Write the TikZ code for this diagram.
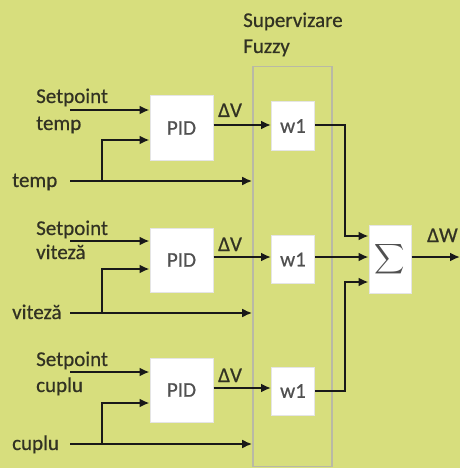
\documentclass[tikz,border=0pt]{standalone}
\usepackage{fontspec}
\setmainfont{Carlito}
\newfontfamily\labfont{Carlito}[FakeBold=0.6]
\usetikzlibrary{arrows.meta}
\definecolor{bg}{RGB}{215,222,125}
\definecolor{txt}{RGB}{50,50,35}
\definecolor{boxtxt}{RGB}{80,80,80}
\definecolor{frame}{RGB}{185,185,165}
\begin{document}
\begin{tikzpicture}[x=1pt,y=-1pt,
  lbl/.style={anchor=base west,inner sep=0pt,font=\labfont\fontsize{21}{24}\selectfont,text=txt},
  blk/.style={draw=black!10,fill=white,line width=1pt,inner sep=0pt,font=\labfont\fontsize{21}{24}\selectfont,text=boxtxt},
  pidbox/.style={blk,minimum width=63pt,minimum height=64pt},
  wbox/.style={blk,minimum width=43pt,minimum height=48pt},
  arr/.style={line width=2.6pt,draw=black!90,-{Latex[length=10pt,width=9pt]}},
  ln/.style={line width=2.6pt,draw=black!90}]
\fill[bg] (0,0) rectangle (460,468);
\useasboundingbox (0,0) rectangle (460,468);
% fuzzy supervisor frame
\node[draw=frame,line width=1.6pt,minimum width=79pt,minimum height=400pt,inner sep=0pt] (sup) at (292.5,266.5) {};
\node[lbl] (supl1) at (243,27) {Supervizare};
\node[lbl] (supl2) at (243,53) {Fuzzy};
% blocks
\node[pidbox] (pid1) at (181.5,128) {PID};
\node[pidbox] (pid2) at (181.5,260) {PID};
\node[pidbox] (pid3) at (181.5,390) {PID};
\node[wbox] (w1) at (293,126) {w1};
\node[wbox] (w2) at (293,259.5) {w1};
\node[wbox] (w3) at (293,391) {w1};
\node[blk,minimum width=42pt,minimum height=68pt] (sum) at (390,259) {\scalebox{2.1}{$\displaystyle\sum$}};
% text labels
\node[lbl] (s1a) at (36,103) {Setpoint};
\node[lbl] (s1b) at (36,130) {temp};
\node[lbl] (in1) at (12,187) {temp};
\node[lbl] (s2a) at (36,235) {Setpoint};
\node[lbl] (s2b) at (36,259) {viteză};
\node[lbl] (in2) at (12,319) {viteză};
\node[lbl] (s3a) at (36,366) {Setpoint};
\node[lbl] (s3b) at (36,392) {cuplu};
\node[lbl] (in3) at (12,450) {cuplu};
\node[lbl] (dv1) at (218,117) {ΔV};
\node[lbl] (dv2) at (218,251) {ΔV};
\node[lbl] (dv3) at (218,382) {ΔV};
\node[lbl] (dw) at (427,242) {ΔW};
% coordinates
\coordinate (sp1) at (70,110);
\coordinate (sp2) at (70,241);
\coordinate (sp3) at (70,372);
\coordinate (m1) at (70,181);
\coordinate (m2) at (70,313);
\coordinate (m3) at (70,444);
\coordinate (b1) at (102,181);
\coordinate (b2) at (102,313);
\coordinate (b3) at (102,444);
\coordinate (f1) at (102,140);
\coordinate (f2) at (102,269);
\coordinate (f3) at (102,403);
\coordinate (j1) at (345,236);
\coordinate (j3) at (345,282);
\coordinate (out) at (460,257);
% connectors
\draw[arr] (sp1) -- (sp1 -| pid1.west);
\draw[arr] (sp2) -- (sp2 -| pid2.west);
\draw[arr] (sp3) -- (sp3 -| pid3.west);
\draw[arr] (m1) -- (m1 -| sup.west);
\draw[arr] (m2) -- (m2 -| sup.west);
\draw[arr] (m3) -- (m3 -| sup.west);
\draw[arr] (b1) -- (f1) -- (f1 -| pid1.west);
\draw[arr] (b2) -- (f2) -- (f2 -| pid2.west);
\draw[arr] (b3) -- (f3) -- (f3 -| pid3.west);
\draw[arr] (pid1.east |- 0,125) -- (w1.west |- 0,125);
\draw[arr] (pid2.east |- 0,257) -- (w2.west |- 0,257);
\draw[arr] (pid3.east |- 0,388) -- (w3.west |- 0,388);
\draw[arr] (w1.east |- 0,125) -| (j1) -- (j1 -| sum.west);
\draw[arr] (w2.east |- 0,257) -- (sum.west |- 0,257);
\draw[arr] (w3.east |- 0,391) -| (j3) -- (j3 -| sum.west);
\draw[arr] (sum.east |- out) -- (out);
\end{tikzpicture}
\end{document}
